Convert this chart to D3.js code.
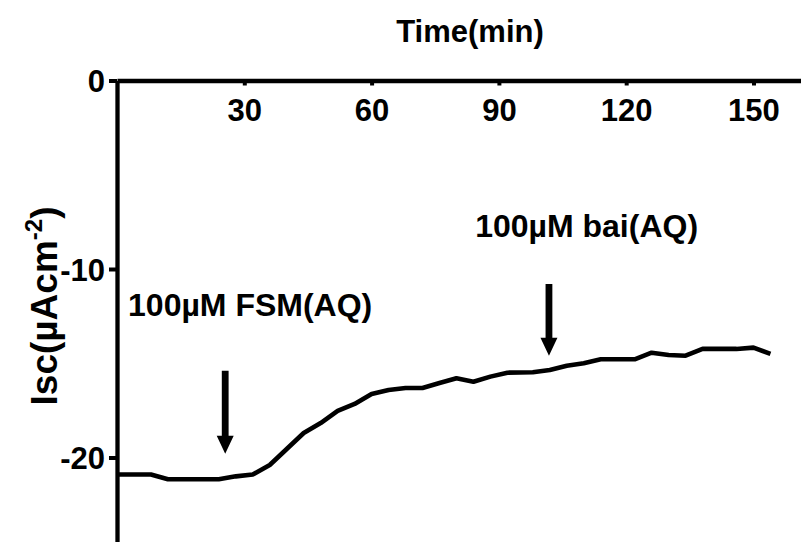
<!DOCTYPE html>
<html>
<head>
<meta charset="utf-8">
<script src="https://cdn.jsdelivr.net/npm/d3@7"></script>
<style>
  html, body { margin: 0; padding: 0; background: #fff; }
  svg { display: block; font-family: "Liberation Sans", Arial, sans-serif; font-weight: bold; }
</style>
</head>
<body>
<svg id="chart" width="801" height="542"></svg>
<script>
// Short-circuit current trace: time (min) vs Isc (µA/cm²)
const times = [0, 4, 8, 12, 16, 20, 24, 28, 32, 36, 40, 44, 48, 52, 56, 60, 64, 68, 72, 76,
               80, 84, 88, 92, 95, 98, 102, 106, 110, 114, 118, 122, 126, 130, 134, 138, 142, 146, 150, 154];
const iscValues = [-20.9, -20.9, -20.9, -21.15, -21.15, -21.15, -21.15, -21.0, -20.9, -20.4,
                   -19.55, -18.7, -18.17, -17.53, -17.16, -16.63, -16.42, -16.31, -16.31, -16.05,
                   -15.8, -15.98, -15.71, -15.5, -15.49, -15.48, -15.36, -15.13, -15.0, -14.79,
                   -14.79, -14.79, -14.44, -14.56, -14.6, -14.24, -14.24, -14.24, -14.17, -14.5];
const xTicks = [30, 60, 90, 120, 150];
const yTicks = [0, -10, -20];

// Drug additions: time of addition, arrow tail and head (Isc units)
const additionLabels = ["100\u00B5M FSM(AQ)", "100\u00B5M bai(AQ)"];
const additionTimes = [25.5, 101.8];
const arrowTails = [-15.4, -10.8];
const arrowHeads = [-19.8, -14.6];
const labelTimes = [2.6, 84.4];
const labelLevels = [-12.5, -8.3];

const svg = d3.select("#chart");

const x = d3.scaleLinear().domain([0, 162]).range([117, 804.4]);
const y = d3.scaleLinear().domain([0, -25]).range([80.5, 551.75]);

// plain hyphen-minus for negative tick values
const plainNumber = d => String(d);

// x axis runs along the top (y = 0) with ticks pointing into the plot
const xAxis = svg.append("g")
  .attr("transform", `translate(0,${y(0)})`)
  .call(d3.axisBottom(x).tickValues(xTicks).tickSize(5).tickSizeOuter(0).tickFormat(plainNumber));
xAxis.select(".domain").attr("stroke", "#000").attr("stroke-width", 4.3);
xAxis.selectAll(".tick line").attr("stroke", "#000").attr("stroke-width", 4);
xAxis.selectAll(".tick text")
  .attr("fill", "#000").attr("font-size", 31).attr("font-family", null)
  .attr("y", 40.5).attr("dy", null);

// y axis
const yAxis = svg.append("g")
  .attr("transform", `translate(${x(0)},0)`)
  .call(d3.axisLeft(y).tickValues(yTicks).tickSize(8).tickSizeOuter(0).tickFormat(plainNumber));
yAxis.select(".domain").attr("stroke", "#000").attr("stroke-width", 4.3);
yAxis.selectAll(".tick line").attr("stroke", "#000").attr("stroke-width", 4);
yAxis.selectAll(".tick text")
  .attr("fill", "#000").attr("font-size", 31).attr("font-family", null)
  .attr("x", -12).attr("dy", "0.36em");

// Axis titles
svg.append("text")
  .attr("x", 470).attr("y", 42)
  .attr("text-anchor", "middle").attr("font-size", 31)
  .text("Time(min)");

const yTitle = svg.append("text")
  .attr("transform", "translate(57,306) rotate(-90)")
  .attr("text-anchor", "middle").attr("font-size", 37);
yTitle.append("tspan").text("Isc(\u00B5Acm");
yTitle.append("tspan").attr("font-size", 24).attr("dy", -15).text("-2");
yTitle.append("tspan").attr("dy", 15).text(")");

// Trace
const line = d3.line().x((d, i) => x(times[i])).y(d => y(d));
svg.append("path")
  .datum(iscValues)
  .attr("d", line)
  .attr("fill", "none").attr("stroke", "#000")
  .attr("stroke-width", 4.6).attr("stroke-linejoin", "bevel");

// Addition arrows and labels
additionTimes.forEach((t, i) => {
  const cx = x(t), y0 = y(arrowTails[i]), y1 = y(arrowHeads[i]);
  const head = 18, hw = 8.5, sw = 3.4;
  svg.append("path")
    .attr("d", `M${cx - sw},${y0} L${cx + sw},${y0} L${cx + sw},${y1 - head} L${cx + hw},${y1 - head}
                L${cx},${y1} L${cx - hw},${y1 - head} L${cx - sw},${y1 - head} Z`)
    .attr("fill", "#000");
  svg.append("text")
    .attr("x", x(labelTimes[i])).attr("y", y(labelLevels[i]))
    .attr("font-size", 32)
    .text(additionLabels[i]);
});
</script>
</body>
</html>
